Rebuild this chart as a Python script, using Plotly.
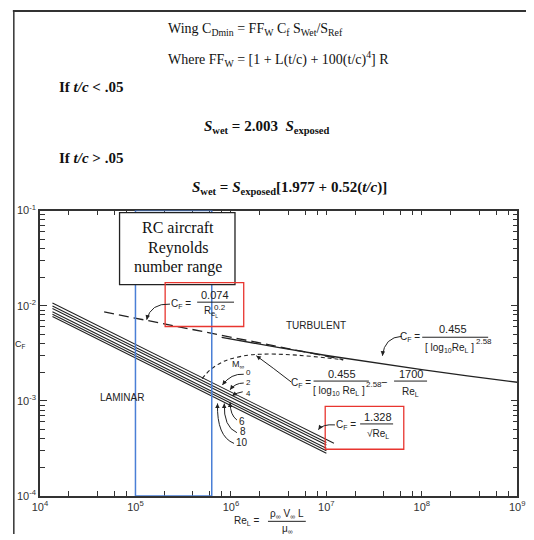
import plotly.graph_objects as go

W, H = 534, 540

# ---------------- data ----------------
re_lam = [1.35e4, 1.0e5, 1.0e6, 1.0e7]
re_lam_m0 = [1.35e4, 1.0e5, 1.0e6, 1.2e7]
cf_m0 = [0.01067, 0.00392, 0.00124, 0.000358]
cf_m2 = [0.00995, 0.00366, 0.00116, 0.000366]
cf_m4 = [0.00937, 0.00344, 0.00109, 0.000344]
cf_m6 = [0.00863, 0.00317, 0.00100, 0.000317]
cf_m8 = [0.00814, 0.00299, 0.000946, 0.000299]
cf_m10 = [0.00769, 0.00282, 0.000893, 0.000282]

re_turb = [8e5, 1e6, 3e6, 1e7, 3e7, 1e8, 3e8, 1e9]
cf_turb = [0.00466, 0.00447, 0.00367, 0.00300, 0.00253, 0.00213, 0.00183, 0.00157]

re_pw = [4.7e4, 1e5, 1e6, 1e7, 1.5e7]
cf_pw = [0.00861, 0.0074, 0.00467, 0.00295, 0.00272]

re_tr = [5e5, 6e5, 8e5, 1e6, 1.5e6, 2e6, 3e6, 5e6, 1e7, 1.5e7]
cf_tr = [0.00171, 0.00210, 0.00254, 0.00277, 0.00302, 0.00309, 0.00310, 0.00302, 0.00283, 0.00270]

rc_re_range = [1e5, 6.3e5]

x_ticks = [1e4, 1e5, 1e6, 1e7, 1e8, 1e9]
x_ticktext = ["10<sup>4</sup>", "10<sup>5</sup>", "10<sup>6</sup>", "10<sup>7</sup>", "10<sup>8</sup>", "10<sup>9</sup>"]
y_ticks = [1e-4, 1e-3, 1e-2, 1e-1]
y_ticktext = ["10<sup>-4</sup>", "10<sup>-3</sup>", "10<sup>-2</sup>", "10<sup>-1</sup>"]
x_minor = [m * 10 ** e for e in range(4, 9) for m in (2, 4, 6, 8)]
y_minor = [m * 10.0 ** e for e in range(-4, -1) for m in range(2, 10)]

# ---------------- helpers ----------------
def X(px):
    return px / W

def Y(py):
    return 1 - py / H

SANS = "Liberation Sans"
SERIF = "Liberation Serif"
INK = "#222222"

fig = go.Figure()

lam_sets = [(re_lam_m0, cf_m0), (re_lam, cf_m2), (re_lam, cf_m4),
            (re_lam, cf_m6), (re_lam, cf_m8), (re_lam, cf_m10)]
for rx, cy in lam_sets:
    fig.add_trace(go.Scatter(x=rx, y=cy, mode="lines",
                             line=dict(color=INK, width=1.1), showlegend=False))

fig.add_trace(go.Scatter(x=re_pw, y=cf_pw, mode="lines",
                         line=dict(color=INK, width=1.3, dash="10px,5px"), showlegend=False))
fig.add_trace(go.Scatter(x=re_turb, y=cf_turb, mode="lines",
                         line=dict(color=INK, width=1.3), showlegend=False))
fig.add_trace(go.Scatter(x=re_tr, y=cf_tr, mode="lines", line_shape="spline",
                         line=dict(color=INK, width=1.1, dash="4px,3px"), showlegend=False))

fig.update_layout(
    width=W, height=H, margin=dict(l=0, r=0, t=0, b=0),
    paper_bgcolor="white", plot_bgcolor="white", showlegend=False,
    xaxis=dict(type="log", range=[4, 9], domain=[X(33), X(525)],
               showgrid=False, zeroline=False, showline=True, linecolor="#333",
               linewidth=1.5, mirror="ticks", ticks="inside", ticklen=5,
               tickcolor="#333", tickvals=x_ticks, ticktext=x_ticktext,
               tickfont=dict(family=SANS, size=11, color="#333"),
               minor=dict(tickvals=x_minor, ticks="inside", ticklen=5, tickcolor="#333")),
    yaxis=dict(type="log", range=[-4, -1], domain=[Y(501), Y(208)],
               showgrid=False, zeroline=False, showline=True, linecolor="#333",
               linewidth=1.5, mirror="ticks", ticks="inside", ticklen=7,
               tickcolor="#333", tickvals=y_ticks, ticktext=y_ticktext,
               tickfont=dict(family=SANS, size=11, color="#333"),
               minor=dict(tickvals=y_minor, ticks="inside", ticklen=5, tickcolor="#333")),
)

shapes = []
# outer frame (top and left)
shapes.append(dict(type="line", xref="paper", yref="paper", x0=X(5), x1=1, y0=Y(3), y1=Y(3),
                   line=dict(color="#333", width=2)))
shapes.append(dict(type="line", xref="paper", yref="paper", x0=X(6), x1=X(6), y0=Y(3), y1=0,
                   line=dict(color="#333", width=1.5)))
# RC Reynolds range (blue)
shapes.append(dict(type="rect", xref="x", yref="y", x0=rc_re_range[0], x1=rc_re_range[1],
                   y0=1e-4, y1=1e-1, line=dict(color="#4a7fd6", width=1.5)))
# RC label box
shapes.append(dict(type="rect", xref="paper", yref="paper", x0=X(115), x1=X(234),
                   y0=Y(284), y1=Y(210), fillcolor="white", line=dict(color="#222", width=1.3),
                   layer="above"))
# red boxes
shapes.append(dict(type="rect", xref="paper", yref="paper", x0=X(162), x1=X(243),
                   y0=Y(327), y1=Y(282), line=dict(color="#e8352f", width=1.3)))
shapes.append(dict(type="rect", xref="paper", yref="paper", x0=X(327), x1=X(408),
                   y0=Y(453), y1=Y(409), line=dict(color="#e8352f", width=1.3)))

# fraction bars
for x0, x1, yy in [(195, 233, 302), (427, 495, 338), (315, 372, 383), (398, 432, 383), (363, 397, 427)]:
    shapes.append(dict(type="line", xref="paper", yref="paper", x0=X(x0), x1=X(x1),
                       y0=Y(yy), y1=Y(yy), line=dict(color=INK, width=1)))

# curved leader arrows: (start, control, tip)
curves = [
    ((167, 304), (147, 303), (143, 320)),
    ((406, 337), (388, 338), (386, 357)),
    ((292, 384), (274, 370), (256, 357)),
    ((337, 428), (324, 427), (320, 433)),
    ((243, 376), (230, 375), (221, 387)),
    ((243, 385), (234, 385), (229, 392)),
    ((242, 394), (236, 395), (231, 398)),
    ((236, 423), (229, 418), (229, 405)),
    ((236, 436), (222, 430), (223, 406)),
    ((233, 447), (215, 440), (216, 406)),
]
annotations = []
for (sx, sy), (cx, cy), (tx, ty) in curves:
    path = "M {:.5f},{:.5f} Q {:.5f},{:.5f} {:.5f},{:.5f}".format(X(sx), Y(sy), X(cx), Y(cy), X(tx), Y(ty))
    shapes.append(dict(type="path", xref="paper", yref="paper", path=path,
                       line=dict(color=INK, width=1)))
    dx, dy = cx - tx, cy - ty
    n = (dx * dx + dy * dy) ** 0.5 or 1
    annotations.append(dict(xref="paper", yref="paper", x=X(tx), y=Y(ty), text="",
                            showarrow=True, ax=6 * dx / n, ay=6 * dy / n, arrowhead=2,
                            arrowsize=0.9, arrowwidth=1, arrowcolor=INK, standoff=0))

def txt(px, py, s, size=10, family=SANS, anchor="center", color=INK):
    annotations.append(dict(xref="paper", yref="paper", x=X(px), y=Y(py), text=s,
                            showarrow=False, xanchor=anchor, yanchor="middle",
                            font=dict(family=family, size=size, color=color)))

# header formulas
txt(163, 22, "Wing C<sub>Dmin</sub> = FF<sub>W</sub> C<sub>f</sub> S<sub>Wet</sub>/S<sub>Ref</sub>",
    14, SERIF, "left", "#111")
txt(163, 52, "Where FF<sub>W</sub> = [1 + L(t/c) + 100(t/c)<sup>4</sup>] R", 14, SERIF, "left", "#111")
txt(50, 81, "<b>If <i>t/c</i> &lt; .05</b>", 15, SERIF, "left", "#111")
txt(200, 122, "<b><i>S</i><sub>wet</sub> = 2.003  <i>S</i><sub>exposed</sub></b>", 15, SERIF, "left", "#111")
txt(50, 154, "<b>If <i>t/c</i> &gt; .05</b>", 15, SERIF, "left", "#111")
txt(188, 185, "<b><i>S</i><sub>wet</sub> = <i>S</i><sub>exposed</sub>[1.977 + 0.52(<i>t/c</i>)]</b>",
    15, SERIF, "left", "#111")

# RC box text
txt(175, 225, "RC aircraft", 16, SERIF, "center", "#111")
txt(175, 246, "Reynolds", 16, SERIF, "center", "#111")
txt(175, 266, "number range", 16, SERIF, "center", "#111")

# region labels
txt(318, 326, "TURBULENT", 10)
txt(118, 400, "LAMINAR", 10)

# formula 0.074
txt(178, 304, "C<sub>F</sub> =", 10)
txt(213, 295, "0.074", 11)
txt(209, 312, "R<sub>e<sub>L</sub></sub>", 10)
txt(219, 307, "0.2", 8)
# turbulent formula
txt(414, 338, "C<sub>F</sub> =", 10)
txt(459, 330, "0.455", 11)
txt(455, 349, "[ log<sub>10</sub>Re<sub>L</sub> ]", 10)
txt(491, 342, "2.58", 8)
# transition formula
txt(302, 385, "C<sub>F</sub> =", 10)
txt(344, 376, "0.455", 11)
txt(341, 393, "[ log<sub>10</sub> Re<sub>L</sub> ]", 10)
txt(377, 387, "2.58", 8)
txt(388, 384, "\u2212", 11)
txt(415, 376, "1700", 11)
txt(415, 394, "Re<sub>L</sub>", 10)
# laminar formula
txt(348, 428, "C<sub>F</sub> =", 10)
txt(381, 420, "1.328", 11)
txt(381, 437, "\u221ARe<sub>L</sub>", 10)

# Mach labels
txt(238, 366, "M<sub>\u221E</sub>", 9)
txt(248, 385, "0<br>2<br>4", 8)
txt(241, 424, "6", 10)
txt(242, 435, "8", 10)
txt(241, 446, "10", 10)

# axis titles
txt(13, 345, "C<sub>F</sub>", 9)
txt(246, 527, "Re<sub>L</sub> =", 10)
txt(288, 519, "\u03C1<sub>\u221E</sub> V<sub>\u221E</sub> L", 10)
txt(288, 535, "\u03BC<sub>\u221E</sub>", 10)
shapes.append(dict(type="line", xref="paper", yref="paper", x0=X(268), x1=X(307),
                   y0=Y(527), y1=Y(527), line=dict(color=INK, width=1)))

fig.update_layout(shapes=shapes, annotations=annotations)

fig.write_html("out.html")
